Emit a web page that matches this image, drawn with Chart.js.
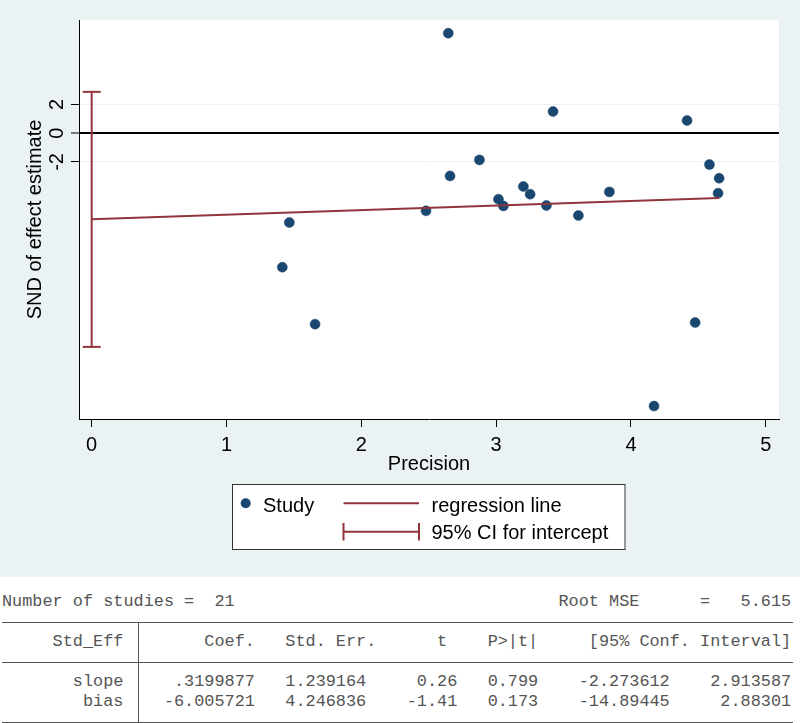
<!DOCTYPE html>
<html lang="en">
<head>
  <meta charset="UTF-8">
  <title>Egger test: SND vs precision</title>
  <script src="https://cdn.jsdelivr.net/npm/chart.js"></script>
  <style>
    body { margin: 0; background: #fff; width: 800px; height: 723px; overflow: hidden; }
    #plot { width: 800px; height: 577px; background: #eaf2f3; }
    #stats { position: relative; width: 800px; height: 146px; background: #fff;
      font-family: "Liberation Mono", "Courier New", monospace; font-size: 16.88px; color: #555; }
    #stats .row { position: absolute; left: 2px; height: 20px; line-height: 20px; white-space: pre; }
    #stats .hr { position: absolute; left: 2px; width: 791px; height: 0; border-top: 1px solid #555; }
    #stats .vr { position: absolute; left: 138px; width: 0; border-left: 1px solid #555; }
  </style>
</head>
<body>
  <div id="plot"><canvas id="eggerChart" width="800" height="577"></canvas></div>
  <div id="stats"></div>

  <script>
    // values
    const precision = [1.414, 1.466, 1.657, 2.480, 2.645, 2.658, 2.876, 3.017, 3.054, 3.202, 3.252,
                       3.373, 3.422, 3.610, 3.840, 4.171, 4.416, 4.476, 4.582, 4.646, 4.654];
    const sndEffect = [-9.34, -6.23, -13.31, -5.41, 6.97, -2.98, -1.86, -4.60, -5.07, -3.72, -4.25,
                       -5.04, 1.51, -5.74, -4.09, -19.02, 0.88, -13.20, -2.19, -4.18, -3.14];
    const regLineX = [0, 4.654];
    const regLineY = [-6.006, -4.517];
    const ciX = [0, 0];
    const ciBounds = [-14.89445, 2.88301];
    const xTicks = [0, 1, 2, 3, 4, 5];
    const yTicks = [-2, 0, 2];

    // regression output shown under the graph
    const nStudies = '21';
    const rootMse = '5.615';
    const statHeader = ['Std_Eff', 'Coef.', 'Std. Err.', 't', 'P>|t|', '[95% Conf. Interval]'];
    const slopeRow = ['slope', '.3199877', '1.239164', '0.26', '0.799', '-2.273612', '2.913587'];
    const biasRow = ['bias', '-6.005721', '4.246836', '-1.41', '0.173', '-14.89445', '2.88301'];

    const navy = '#1a476f';
    const maroon = '#90353b';
    const sans = '"Liberation Sans", Arial, sans-serif';

    const toPoints = (xs, ys) => xs.map((x, i) => ({ x: x, y: ys[i] }));

    const eggerExtras = {
      id: 'eggerExtras',
      beforeDraw(chart) {
        const a = chart.chartArea;
        chart.ctx.save();
        chart.ctx.fillStyle = '#fff';
        chart.ctx.fillRect(a.left, a.top, a.right - a.left, a.bottom - a.top);
        chart.ctx.restore();
      },
      afterDraw(chart) {
        const ctx = chart.ctx;
        const ys = chart.scales.y;
        const ds = chart.data.datasets;

        // rotated y tick labels (stata style)
        ctx.save();
        ctx.font = '20px ' + sans;
        ctx.fillStyle = '#000';
        ctx.textAlign = 'center';
        ctx.textBaseline = 'alphabetic';
        ys.ticks.forEach(t => {
          ctx.save();
          ctx.translate(63, ys.getPixelForValue(t.value));
          ctx.rotate(-Math.PI / 2);
          ctx.fillText(String(t.value), 0, 0);
          ctx.restore();
        });
        ctx.restore();

        // legend box
        ctx.save();
        ctx.fillStyle = '#fff';
        ctx.strokeStyle = '#333';
        ctx.lineWidth = 1;
        ctx.fillRect(232.5, 484.5, 392.5, 65);
        ctx.strokeRect(232.5, 484.5, 392.5, 65);

        ctx.fillStyle = ds[0].backgroundColor;
        ctx.beginPath();
        ctx.arc(245.7, 503.3, 5, 0, Math.PI * 2);
        ctx.fill();

        ctx.strokeStyle = ds[1].borderColor;
        ctx.lineWidth = 2;
        ctx.beginPath();
        ctx.moveTo(343.5, 503.3);
        ctx.lineTo(419, 503.3);
        ctx.stroke();

        ctx.strokeStyle = ds[2].borderColor;
        ctx.beginPath();
        ctx.moveTo(343.5, 531.7);
        ctx.lineTo(419, 531.7);
        ctx.moveTo(343.5, 523);
        ctx.lineTo(343.5, 540.5);
        ctx.moveTo(419, 523);
        ctx.lineTo(419, 540.5);
        ctx.stroke();

        ctx.font = '20px ' + sans;
        ctx.fillStyle = '#000';
        ctx.textAlign = 'left';
        ctx.textBaseline = 'alphabetic';
        ctx.fillText(ds[0].label, 263, 511.5);
        ctx.fillText(ds[1].label, 431.5, 511.5);
        ctx.fillText(ds[2].label, 431.5, 539.3);
        ctx.restore();
      }
    };

    const ctx = document.getElementById('eggerChart').getContext('2d');
    const eggerChart = new Chart(ctx, {
      type: 'scatter',
      data: {
        datasets: [{
          label: 'Study',
          data: toPoints(precision, sndEffect),
          backgroundColor: navy,
          borderColor: navy,
          borderWidth: 0.5,
          pointRadius: 5,
          order: 3
        }, {
          label: 'regression line',
          data: toPoints(regLineX, regLineY),
          showLine: true,
          borderColor: maroon,
          borderWidth: 2,
          pointRadius: 0,
          order: 2
        }, {
          label: '95% CI for intercept',
          data: toPoints(ciX, ciBounds),
          showLine: true,
          borderColor: maroon,
          borderWidth: 2,
          pointStyle: 'line',
          pointRadius: 9,
          pointBorderColor: maroon,
          pointBorderWidth: 2,
          order: 1
        }]
      },
      options: {
        responsive: false,
        animation: false,
        events: [],
        layout: { padding: { left: 0, top: 20, right: 21, bottom: 0 } },
        plugins: {
          legend: { display: false },
          tooltip: { enabled: false }
        },
        scales: {
          x: {
            type: 'linear',
            min: -0.094,
            max: 5.098,
            afterBuildTicks: s => { s.ticks = xTicks.map(v => ({ value: v })); },
            afterFit: s => { s.height = 158; },
            grid: { drawOnChartArea: false, drawTicks: true, tickLength: 8, tickColor: '#000', tickWidth: 1 },
            border: { display: true, color: '#000', width: 1 },
            ticks: { padding: 6, color: '#000', maxRotation: 0, font: { family: sans, size: 20 } },
            title: {
              display: true, text: 'Precision', color: '#000',
              font: { family: sans, size: 20 },
              padding: { top: 0, bottom: 101 }
            }
          },
          y: {
            type: 'linear',
            min: -19.92,
            max: 7.89,
            afterBuildTicks: s => { s.ticks = yTicks.map(v => ({ value: v })); },
            afterFit: s => { s.width = 79; },
            grid: {
              color: c => (c.tick && c.tick.value === 0) ? '#000' : '#eaf2f3',
              lineWidth: c => (c.tick && c.tick.value === 0) ? 2 : 1,
              tickColor: '#000',
              tickWidth: 1,
              tickLength: 8
            },
            border: { display: true, color: '#000', width: 1 },
            ticks: { display: false },
            title: {
              display: true, text: 'SND of effect estimate', color: '#000',
              font: { family: sans, size: 20 },
              padding: { top: 23, bottom: 0 }
            }
          }
        }
      },
      plugins: [eggerExtras]
    });

    // stata style results table
    const stats = document.getElementById('stats');
    function addRow(text, top) {
      const d = document.createElement('div');
      d.className = 'row';
      d.style.top = top + 'px';
      d.textContent = text;
      stats.appendChild(d);
    }
    function addLine(cls, top, len) {
      const d = document.createElement('div');
      d.className = cls;
      d.style.top = top + 'px';
      if (len) d.style.height = len + 'px';
      stats.appendChild(d);
    }
    const headerWidths = [12, 11, 12, 7, 9, 25];
    const rowWidths = [12, 11, 11, 9, 8, 13, 12];
    const fmt = (cells, widths) => cells.map((c, i) => c.padStart(widths[i]) + (i === 0 ? '  ' : '')).join('');

    const left = 'Number of studies =  ' + nStudies;
    const right = 'Root MSE      =   ' + rootMse;
    addRow(left + ' '.repeat(78 - left.length - right.length) + right, 14.7);
    addLine('hr', 44.7);
    addRow(fmt(statHeader, headerWidths), 54.7);
    addLine('hr', 84.7);
    addRow(fmt(slopeRow, rowWidths), 94.7);
    addRow(fmt(biasRow, rowWidths), 114.7);
    addLine('hr', 144.7);
    addLine('vr', 44.7, 100);
  </script>
</body>
</html>
